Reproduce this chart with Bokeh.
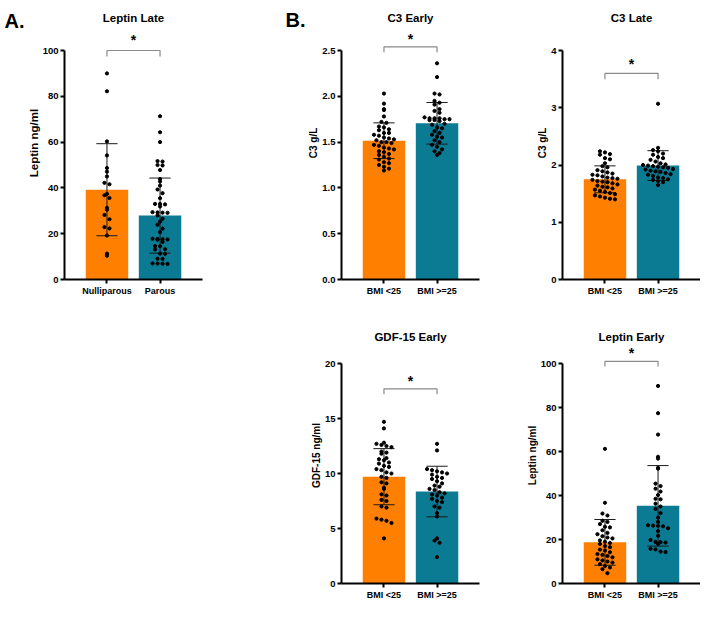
import numpy as np
from bokeh.plotting import figure
from bokeh.layouts import row, column, Spacer
from bokeh.models import FixedTicker, NumeralTickFormatter, Range1d, LinearAxis
from bokeh.core.properties import value
from bokeh.embed import file_html
from bokeh.resources import INLINE

FONT = "Liberation Sans"
ORANGE = "#FF8000"
TEAL = "#0B7B94"

# ---------------- data ----------------
parity_groups = ["Nulliparous", "Parous"]
bmi_groups = ["BMI <25", "BMI >=25"]

leptin_late_nulliparous = [90.0, 82.2, 60.3, 54.2, 48.7, 47.1, 45.0, 42.2, 41.6, 37.4, 36.8,
                           35.6, 31.3, 30.5, 28.2, 26.3, 22.9, 22.3, 19.2, 11.3, 10.4]
leptin_late_parous = [71.3, 64.3, 60.0, 51.7, 51.5, 50.0, 49.8, 47.8, 43.9, 42.8, 41.0, 39.3,
                      37.7, 35.5, 33.0, 33.0, 32.8, 31.9, 29.4, 29.3, 29.2, 29.1, 28.0, 26.5,
                      25.3, 23.9, 22.2, 20.7, 17.8, 17.7, 17.6, 17.5, 17.4, 16.4, 14.6, 14.5,
                      13.2, 13.1, 11.3, 11.2, 9.1, 9.0, 7.0, 7.0, 6.9, 6.8]
leptin_late_mean = [39.2, 27.9]
leptin_late_sd = [20.1, 16.4]

c3_early_low = [2.03, 1.92, 1.86, 1.85, 1.78, 1.72, 1.71, 1.67, 1.66, 1.64, 1.63, 1.60, 1.60,
                1.58, 1.57, 1.55, 1.54, 1.53, 1.52, 1.50, 1.50, 1.49, 1.47, 1.46, 1.44, 1.43,
                1.42, 1.40, 1.39, 1.37, 1.36, 1.34, 1.32, 1.31, 1.28, 1.27, 1.25, 1.23, 1.21, 1.19]
c3_early_high = [2.36, 2.21, 2.03, 2.02, 1.95, 1.93, 1.91, 1.86, 1.84, 1.82, 1.77, 1.76, 1.76,
                 1.76, 1.75, 1.75, 1.74, 1.74, 1.73, 1.70, 1.69, 1.66, 1.65, 1.62, 1.60, 1.58,
                 1.56, 1.55, 1.52, 1.50, 1.47, 1.45, 1.42, 1.40, 1.38, 1.36]
c3_early_mean = [1.515, 1.705]
c3_early_sd = [0.195, 0.227]

c3_late_low = [2.24, 2.22, 2.19, 2.18, 2.12, 2.10, 2.03, 1.98, 1.96, 1.91, 1.89, 1.87, 1.85,
               1.83, 1.82, 1.80, 1.78, 1.77, 1.76, 1.74, 1.72, 1.71, 1.70, 1.68, 1.66, 1.64,
               1.62, 1.61, 1.59, 1.57, 1.55, 1.53, 1.51, 1.49, 1.47, 1.45, 1.43, 1.41, 1.40]
c3_late_high = [3.07, 2.30, 2.26, 2.24, 2.20, 2.18, 2.14, 2.12, 2.09, 2.06, 2.03, 2.01, 2.00,
                1.99, 1.98, 1.97, 1.96, 1.95, 1.93, 1.92, 1.90, 1.89, 1.88, 1.86, 1.84, 1.83,
                1.81, 1.78, 1.77, 1.75, 1.74, 1.72, 1.70, 1.65]
c3_late_mean = [1.75, 1.99]
c3_late_sd = [0.235, 0.26]

gdf15_early_low = [14.7, 14.1, 12.8, 12.7, 12.6, 12.5, 12.4, 12.0, 11.9, 11.8, 11.4, 11.3, 11.2,
                   11.0, 10.9, 10.7, 10.6, 10.4, 10.3, 10.1, 10.0, 9.7, 9.6, 9.2, 9.1, 8.7, 8.6,
                   8.1, 8.0, 7.6, 7.5, 7.0, 6.9, 5.9, 5.8, 5.7, 5.5, 4.1]
gdf15_early_high = [12.7, 12.1, 10.4, 10.3, 10.2, 10.1, 10.0, 9.9, 9.7, 9.6, 9.5, 9.3, 9.1, 8.9,
                    8.8, 8.6, 8.5, 8.3, 8.2, 8.1, 8.0, 7.8, 7.7, 7.5, 7.4, 7.0, 6.9, 6.4, 6.1,
                    4.1, 3.9, 3.7, 2.4]
gdf15_early_mean = [9.71, 8.36]
gdf15_early_sd = [2.55, 2.3]

leptin_early_low = [61.2, 36.7, 31.8, 30.9, 28.5, 28.0, 27.0, 25.8, 25.5, 24.2, 23.0, 22.4, 21.5,
                    20.9, 20.5, 19.6, 19.0, 18.4, 18.0, 17.0, 16.5, 15.4, 15.0, 14.2, 13.4, 13.0,
                    12.5, 11.9, 11.0, 10.5, 10.0, 9.5, 8.8, 8.0, 7.3, 6.5, 4.7]
leptin_early_high = [89.8, 77.4, 67.7, 57.6, 56.8, 52.6, 52.2, 45.4, 44.3, 43.1, 41.8, 40.2,
                     38.5, 38.3, 36.3, 35.0, 33.9, 32.0, 29.9, 28.0, 26.5, 26.3, 26.2, 26.0,
                     25.1, 23.8, 21.7, 19.8, 18.9, 18.8, 18.6, 18.0, 15.8, 15.5, 14.5, 14.3]
leptin_early_mean = [18.7, 35.3]
leptin_early_sd = [10.4, 18.3]

# ---------------- layout constants (pixels) ----------------
X0, X1 = 0.2, 2.8
ROW1 = dict(height=300, top=6, bottom=21, axis_px=229, title_px=262, letter_px=259)
ROW2 = dict(height=303, top=27, bottom=20, axis_px=220, title_px=247, letter_px=0)


def swarm_offsets(vals, binsize, step):
    vals = np.asarray(vals, dtype=float)
    bins = np.floor(vals / binsize).astype(int)
    offs = np.zeros(len(vals))
    for b in np.unique(bins):
        idx = np.where(bins == b)[0]
        k = len(idx)
        offs[idx] = (np.arange(k) - (k - 1) / 2.0) * step
    return offs


def make_panel(title, ylabel, cats, g1, g2, means, sds, yticks, yfmt, bracket,
               width, left, right, geom, ylabel_size="10px", letter=None):
    height, top, bottom = geom["height"], geom["top"], geom["bottom"]
    frame_h = height - top - bottom
    frame_w = width - left - right
    ytop = yticks[-1]
    px_per_unit = geom["axis_px"] / ytop
    yend = frame_h / px_per_unit
    ppu_x = frame_w / (X1 - X0)

    p = figure(width=width, height=height, x_range=Range1d(X0, X1),
               y_range=Range1d(0, yend), output_backend="svg", toolbar_location=None,
               min_border_left=left, min_border_right=right, min_border_top=top,
               min_border_bottom=bottom, title=None)
    p.outline_line_color = None
    p.grid.visible = False

    xs = [1, 2]
    p.vbar(x=xs, top=means, width=0.8, bottom=0, fill_color=[ORANGE, TEAL], line_color=None)

    # error bars (mean +/- SD)
    lo = [m - s for m, s in zip(means, sds)]
    hi = [m + s for m, s in zip(means, sds)]
    cap = 0.2
    p.segment(x0=xs, y0=lo, x1=xs, y1=hi, line_color="#1a1a1a", line_width=1)
    p.segment(x0=[x - cap for x in xs] * 2, y0=hi + lo, x1=[x + cap for x in xs] * 2,
              y1=hi + lo, line_color="#1a1a1a", line_width=1)

    # individual points (swarm spread derived from the values)
    binsize = 5.0 / px_per_unit
    step = 5.0 / ppu_x
    for x, g in zip(xs, [g1, g2]):
        off = swarm_offsets(g, binsize, step)
        p.scatter(x=np.array(off) + x, y=g, size=3.2, color="black", marker="circle")

    # significance bracket
    yl, yt, ys = bracket
    p.line(x=[1, 1, 2, 2], y=[yt, yl, yl, yt], line_color="#8a8a8a", line_width=1.2)
    p.text(x=[1.5], y=[ys], text=["*"], text_align="center", text_baseline="middle",
           text_font=value(FONT), text_font_style="bold", text_font_size="14px",
           text_color="black")

    # panel title, centred between the two bars
    p.text(x=[1.5], y=[geom["title_px"] / px_per_unit], text=[title],
           text_align="center", text_baseline="middle", text_font=value(FONT),
           text_font_style="bold", text_font_size="11.5px", text_color="black")

    # axes
    for ax in (p.xaxis[0], p.yaxis[0]):
        ax.axis_line_width = 2
        ax.axis_line_color = "black"
        ax.major_tick_line_width = 2
        ax.major_tick_line_color = "black"
        ax.major_tick_out = 4
        ax.major_tick_in = 0
        ax.minor_tick_out = 0
        ax.minor_tick_in = 0
        ax.major_label_text_font = FONT
        ax.major_label_text_font_style = "bold"
        ax.major_label_text_color = "black"
        ax.major_label_standoff = 2
    p.yaxis.ticker = FixedTicker(ticks=yticks)
    p.yaxis.bounds = (0, ytop)
    p.yaxis.major_label_text_font_size = "9.5px"
    if yfmt:
        p.yaxis.formatter = NumeralTickFormatter(format=yfmt)
    p.yaxis.axis_label = ylabel
    p.yaxis.axis_label_text_font = FONT
    p.yaxis.axis_label_text_font_style = "bold"
    p.yaxis.axis_label_text_font_size = ylabel_size
    p.yaxis.axis_label_text_color = "black"
    p.yaxis.axis_label_standoff = 0
    p.xaxis.ticker = FixedTicker(ticks=xs)
    p.xaxis.major_label_overrides = {1: cats[0], 2: cats[1]}
    p.xaxis.major_label_text_font_size = "9px"

    if letter:
        ly = round(geom["letter_px"] / px_per_unit, 2)
        lax = LinearAxis(ticker=FixedTicker(ticks=[ly]), major_label_overrides={ly: letter})
        lax.axis_line_color = None
        lax.major_tick_line_color = None
        lax.major_tick_out = 0
        lax.major_tick_in = 0
        lax.minor_tick_out = 0
        lax.minor_tick_in = 0
        lax.major_label_standoff = 0
        lax.major_label_text_font = FONT
        lax.major_label_text_font_style = "bold"
        lax.major_label_text_font_size = "20px"
        lax.major_label_text_color = "black"
        p.add_layout(lax, "left")
    return p


pA = make_panel("Leptin Late", "Leptin ng/ml", parity_groups, leptin_late_nulliparous,
                leptin_late_parous, leptin_late_mean, leptin_late_sd,
                [0, 20, 40, 60, 80, 100], None, (100.0, 97.4, 104.8),
                240, 64, 38, ROW1, ylabel_size="11.5px", letter="A.")
pC3E = make_panel("C3 Early", "C3 g/L", bmi_groups, c3_early_low, c3_early_high,
                  c3_early_mean, c3_early_sd, [0.0, 0.5, 1.0, 1.5, 2.0, 2.5], "0.0",
                  (2.54, 2.48, 2.63), 240, 101, 1, ROW1, letter="B.")
pC3L = make_panel("C3 Late", "C3 g/L", bmi_groups, c3_late_low, c3_late_high,
                  c3_late_mean, c3_late_sd, [0, 1, 2, 3, 4], None,
                  (3.6, 3.5, 3.76), 220, 82, 0, ROW1)
pGDF = make_panel("GDF-15 Early", "GDF-15 ng/ml", bmi_groups, gdf15_early_low, gdf15_early_high,
                  gdf15_early_mean, gdf15_early_sd, [0, 5, 10, 15, 20], None,
                  (17.7, 17.2, 18.4), 240, 101, 1, ROW2)
pLE = make_panel("Leptin Early", "Leptin ng/ml", bmi_groups, leptin_early_low, leptin_early_high,
                 leptin_early_mean, leptin_early_sd, [0, 20, 40, 60, 80, 100], None,
                 (101.0, 98.6, 104.7), 220, 82, 0, ROW2)

layout = column(row(pA, pC3E, pC3L),
                row(Spacer(width=240, height=ROW2["height"]), pGDF, pLE))

open("out.html", "w").write(file_html(layout, INLINE))
